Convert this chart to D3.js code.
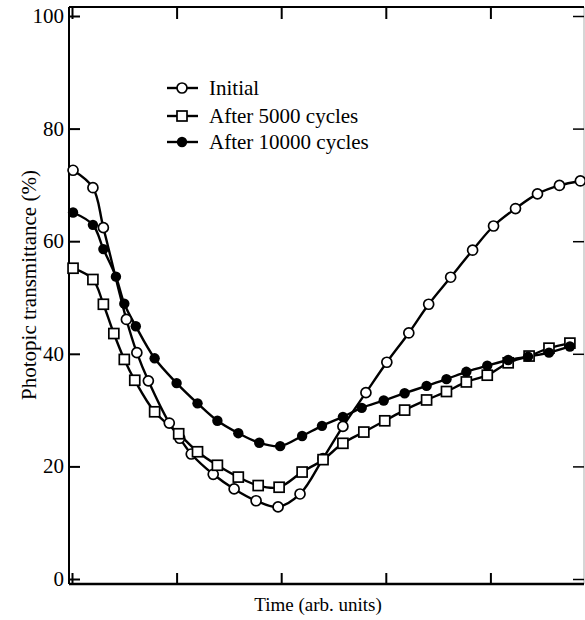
<!DOCTYPE html>
<html>
<head>
<meta charset="utf-8">
<script src="https://cdn.jsdelivr.net/npm/d3@7"></script>
<style>
  body { margin: 0; background: #fff; }
  svg { display: block; font-family: "Liberation Serif", "Times New Roman", serif; }
</style>
</head>
<body>
<div id="chart"></div>
<script>
// Values: [time (arb. units, 1 per major tick), transmittance %]
const initial = [
  [0.01, 72.6], [0.20, 69.5], [0.30, 62.4], [0.52, 46.1], [0.62, 40.2],
  [0.73, 35.2], [0.93, 27.7], [1.03, 25.0], [1.14, 22.2], [1.35, 18.6],
  [1.55, 16.0], [1.76, 13.9], [1.97, 12.8], [2.18, 15.1], [2.40, 21.4],
  [2.59, 27.1], [2.81, 33.1], [3.01, 38.5], [3.22, 43.7], [3.41, 48.8],
  [3.62, 53.6], [3.83, 58.4], [4.03, 62.7], [4.24, 65.8], [4.45, 68.4],
  [4.66, 69.9], [4.86, 70.7]
];
const after5000 = [
  [0.01, 55.2], [0.20, 53.2], [0.30, 48.8], [0.40, 43.6], [0.50, 39.0],
  [0.60, 35.3], [0.79, 29.7], [1.02, 25.8], [1.20, 22.6], [1.39, 20.2],
  [1.59, 18.1], [1.78, 16.6], [1.98, 16.3], [2.20, 19.0], [2.40, 21.2],
  [2.59, 24.1], [2.79, 26.1], [2.99, 28.1], [3.18, 30.0], [3.39, 31.8],
  [3.58, 33.3], [3.77, 35.0], [3.97, 36.2], [4.17, 38.4], [4.37, 39.6],
  [4.56, 41.0], [4.76, 41.9]
];
const after10000 = [
  [0.01, 65.1], [0.20, 62.9], [0.30, 58.6], [0.42, 53.7], [0.50, 48.9],
  [0.61, 44.9], [0.79, 39.2], [1.00, 34.8], [1.20, 31.2], [1.39, 28.1],
  [1.59, 25.9], [1.79, 24.2], [1.99, 23.6], [2.20, 25.4], [2.39, 27.2],
  [2.59, 28.8], [2.77, 30.4], [2.98, 31.7], [3.18, 33.0], [3.39, 34.3],
  [3.58, 35.5], [3.77, 36.8], [3.97, 37.9], [4.17, 38.9], [4.36, 39.5],
  [4.56, 40.2], [4.76, 41.3]
];
const seriesNames = ["Initial", "After 5000 cycles", "After 10000 cycles"];
const seriesMarkers = ["circle", "square", "dot"];
const yTicks = [0, 20, 40, 60, 80, 100];
const xTicks = [0, 1, 2, 3, 4];

const W = 585, H = 620;
const frame = {left: 69, right: 584, top: 7, bottom: 584};

const svg = d3.select("#chart").append("svg")
  .attr("width", W).attr("height", H);

const x = d3.scaleLinear().domain([0, 5]).range([72, 595]);
const y = d3.scaleLinear().domain([0, 100]).range([579, 16]);

// frame: right side is faint in the scan
svg.append("line")
  .attr("x1", frame.right).attr("x2", frame.right)
  .attr("y1", frame.top).attr("y2", frame.bottom)
  .attr("stroke", "#bbb").attr("stroke-width", 1.2);
svg.append("line")
  .attr("x1", frame.left).attr("x2", frame.right)
  .attr("y1", frame.top).attr("y2", frame.top)
  .attr("stroke", "#000").attr("stroke-width", 2);
svg.append("line")
  .attr("x1", frame.left).attr("x2", frame.right)
  .attr("y1", frame.bottom).attr("y2", frame.bottom)
  .attr("stroke", "#000").attr("stroke-width", 2.5);
svg.append("line")
  .attr("x1", frame.left).attr("x2", frame.left)
  .attr("y1", frame.top).attr("y2", frame.bottom)
  .attr("stroke", "#000").attr("stroke-width", 2);

// y ticks, left axis (inward) with labels
const leftAxis = svg.append("g")
  .attr("transform", `translate(${frame.left},0)`)
  .call(d3.axisRight(y).tickValues(yTicks).tickSize(11).tickFormat(""));
leftAxis.select(".domain").remove();
leftAxis.selectAll(".tick line").attr("stroke-width", 2);

svg.selectAll("text.ylab").data(yTicks).enter()
  .append("text").attr("class", "ylab")
  .attr("x", 64).attr("y", d => y(d) + 7)
  .attr("text-anchor", "end")
  .attr("font-size", 21)
  .text(d => d);

// y ticks, right axis (inward)
const rightAxis = svg.append("g")
  .attr("transform", `translate(${frame.right},0)`)
  .call(d3.axisLeft(y).tickValues(yTicks).tickSize(11).tickFormat(""));
rightAxis.select(".domain").remove();
rightAxis.selectAll(".tick line").attr("stroke-width", 1.5);

// x ticks, bottom and top (inward, unlabeled)
const bottomAxis = svg.append("g")
  .attr("transform", `translate(0,${frame.bottom})`)
  .call(d3.axisTop(x).tickValues(xTicks).tickSize(11).tickFormat(""));
bottomAxis.select(".domain").remove();
bottomAxis.selectAll(".tick line").attr("stroke-width", 2);

const topAxis = svg.append("g")
  .attr("transform", `translate(0,${frame.top})`)
  .call(d3.axisBottom(x).tickValues(xTicks).tickSize(12).tickFormat(""));
topAxis.select(".domain").remove();
topAxis.selectAll(".tick line").attr("stroke-width", 2);

// axis titles
svg.append("text")
  .attr("x", 318).attr("y", 611)
  .attr("text-anchor", "middle").attr("font-size", 19)
  .text("Time (arb. units)");
svg.append("text")
  .attr("transform", "translate(36,285) rotate(-90)")
  .attr("text-anchor", "middle").attr("font-size", 21)
  .text("Photopic transmittance (%)");

const line = d3.line()
  .x(d => x(d[0])).y(d => y(d[1]))
  .curve(d3.curveCatmullRom.alpha(0.5));

function drawMarker(g, kind) {
  if (kind === "circle") {
    g.append("circle").attr("r", 5)
      .attr("fill", "#fff").attr("stroke", "#000").attr("stroke-width", 1.7);
  } else if (kind === "square") {
    g.append("rect").attr("x", -5).attr("y", -5).attr("width", 10).attr("height", 10)
      .attr("fill", "#fff").attr("stroke", "#000").attr("stroke-width", 1.7);
  } else {
    g.append("circle").attr("r", 5.2).attr("fill", "#000");
  }
}

const allSeries = [initial, after5000, after10000];
const plot = svg.append("g");

allSeries.forEach((data, i) => {
  plot.append("path")
    .datum(data)
    .attr("d", line)
    .attr("fill", "none")
    .attr("stroke", "#000")
    .attr("stroke-width", 2.4);
});
allSeries.forEach((data, i) => {
  plot.selectAll(null).data(data).enter()
    .append("g")
    .attr("transform", d => `translate(${x(d[0])},${y(d[1])})`)
    .each(function() { drawMarker(d3.select(this), seriesMarkers[i]); });
});

// legend
const legendY = [88, 116, 142];
const legend = svg.append("g");
seriesNames.forEach((name, i) => {
  const row = legend.append("g").attr("transform", `translate(0,${legendY[i]})`);
  row.append("line").attr("x1", 167).attr("x2", 198)
    .attr("stroke", "#000").attr("stroke-width", 2.4);
  drawMarker(row.append("g").attr("transform", "translate(182,0)"), seriesMarkers[i]);
  row.append("text").attr("x", 209).attr("y", 7)
    .attr("font-size", 21).text(name);
});
</script>
</body>
</html>
